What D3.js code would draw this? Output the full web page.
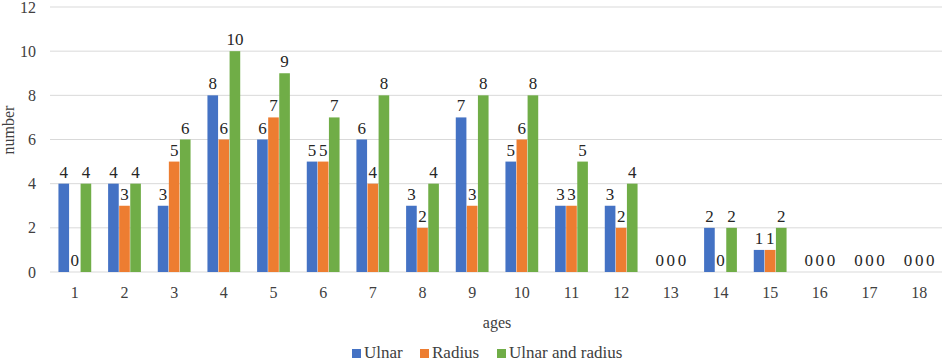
<!DOCTYPE html>
<html lang="en">
<head>
    <meta charset="UTF-8">
    <title>D3 Visualization</title>
    <script src="https://d3js.org/d3.v7.min.js"></script>
    <style>
        body { margin: 0; background: #fff; }
        svg text { font-family: "Liberation Serif", "Times New Roman", Times, "DejaVu Serif", serif; fill: #404040; }
        .grid line { stroke: #d9d9d9; stroke-width: 1; }
    </style>
</head>
<body>
    <div id="chart"></div>
    <script>
        // chart data
        const ages = ["1","2","3","4","5","6","7","8","9","10","11","12","13","14","15","16","17","18"];
        const ulnar = [4,4,3,8,6,5,6,3,7,5,3,3,0,2,1,0,0,0];
        const radius = [0,3,5,6,7,5,4,2,3,6,3,2,0,0,1,0,0,0];
        const both = [4,4,6,10,9,7,8,4,8,8,5,4,0,2,2,0,0,0];
        const seriesNames = ["Ulnar", "Radius", "Ulnar and radius"];
        const colors = ["#4472C4", "#ED7D31", "#70AD47"];
        const yTicks = [0,2,4,6,8,10,12];

        const series = [ulnar, radius, both];
        const width = 945, height = 363;
        const margin = {top: 7, right: 1, bottom: 91, left: 50};
        const font = "'Liberation Serif', 'Times New Roman', serif";

        const svg = d3.select("#chart").append("svg")
            .attr("width", width)
            .attr("height", height)
            .attr("font-family", font);

        const x = d3.scaleBand()
            .domain(ages)
            .range([margin.left, width - margin.right])
            .paddingInner(0.34)
            .paddingOuter(0.17);

        const xInner = d3.scaleBand()
            .domain(d3.range(series.length))
            .range([0, x.bandwidth()])
            .paddingInner(0.04);

        const y = d3.scaleLinear()
            .domain([0, 12])
            .range([height - margin.bottom, margin.top]);

        // gridlines
        svg.append("g")
            .attr("class", "grid")
            .selectAll("line")
            .data(yTicks)
            .join("line")
            .attr("x1", margin.left)
            .attr("x2", width - margin.right - 2)
            .attr("y1", d => y(d))
            .attr("y2", d => y(d));

        // y labels
        svg.append("g")
            .selectAll("text")
            .data(yTicks)
            .join("text")
            .attr("x", margin.left - 14)
            .attr("y", d => y(d))
            .attr("dy", "0.35em")
            .attr("text-anchor", "end")
            .style("font-size", "16px")
            .text(d => d);

        // x labels
        svg.append("g")
            .selectAll("text")
            .data(ages)
            .join("text")
            .attr("x", d => x(d) + x.bandwidth() / 2)
            .attr("y", y(0) + 26)
            .attr("text-anchor", "middle")
            .style("font-size", "16px")
            .text(d => d);

        // bars
        series.forEach((vals, si) => {
            const g = svg.append("g");
            g.selectAll("rect")
                .data(vals)
                .join("rect")
                .attr("x", (d, i) => x(ages[i]) + xInner(si))
                .attr("width", xInner.bandwidth())
                .attr("y", d => y(d))
                .attr("height", d => y(0) - y(d))
                .attr("fill", colors[si]);

            g.selectAll("text")
                .data(vals)
                .join("text")
                .attr("x", (d, i) => x(ages[i]) + xInner(si) + xInner.bandwidth() / 2)
                .attr("y", d => y(d) - 6)
                .attr("text-anchor", "middle")
                .style("font-size", "17px")
                .style("fill", "#262626")
                .text(d => d);
        });

        // axis titles
        svg.append("text")
            .attr("x", (margin.left + width - margin.right) / 2)
            .attr("y", 328)
            .attr("text-anchor", "middle")
            .style("font-size", "16px")
            .text("ages");

        svg.append("text")
            .attr("transform", "translate(14, 130) rotate(-90)")
            .attr("text-anchor", "middle")
            .style("font-size", "16px")
            .text("number");

        // legend
        const legendItems = [
            {name: seriesNames[0], x: 352},
            {name: seriesNames[1], x: 420},
            {name: seriesNames[2], x: 497}
        ];
        const lg = svg.append("g");
        legendItems.forEach((d, i) => {
            lg.append("rect")
                .attr("x", d.x)
                .attr("y", 349)
                .attr("width", 9)
                .attr("height", 9)
                .attr("fill", colors[i]);
            lg.append("text")
                .attr("x", d.x + 12)
                .attr("y", 358)
                .style("font-size", "17px")
                .text(d.name);
        });
    </script>
</body>
</html>
